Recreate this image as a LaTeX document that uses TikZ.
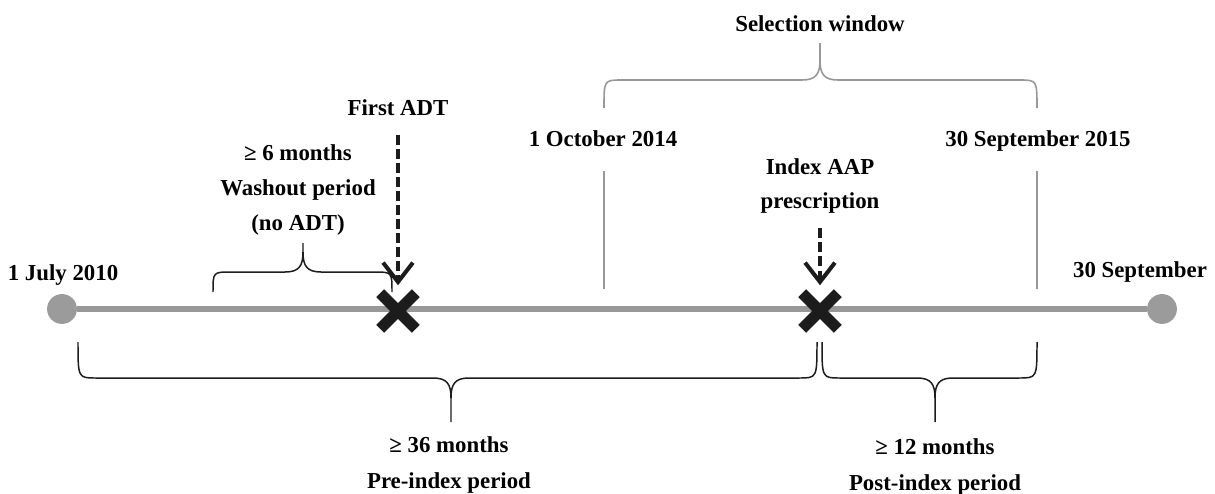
\documentclass[tikz,border=0pt]{standalone}
\usepackage{fontspec}
\setmainfont{Liberation Serif}
\usetikzlibrary{arrows.meta,shapes.misc}
\definecolor{LineGray}{RGB}{152,152,152}
\definecolor{DotGray}{RGB}{155,155,155}
\definecolor{MarkBlack}{RGB}{28,28,28}

% curly brace: [style] x-left, x-right, x-tip, y-ends, y-arms, y-tip
\newcommand{\tlbrace}[7][]{%
  \pgfmathsetmacro{\bs}{sign(#6-#5)}
  \draw[#1] (#2,#5) .. controls (#2,#6) .. ({#2+18},#6) -- ({#4-18},#6)
    .. controls ({#4-4},#6) and (#4,{#6+\bs*6}) .. (#4,{#6+\bs*20}) -- (#4,#7)
    (#4,#7) -- (#4,{#6+\bs*20})
    .. controls (#4,{#6+\bs*6}) and ({#4+4},#6) .. ({#4+18},#6)
    -- ({#3-18},#6) .. controls (#3,#6) .. (#3,#5);}

\begin{document}
\begin{tikzpicture}[x=0.02cm,y=-0.02cm]
  \tikzstyle{lbl}=[font=\fontsize{13}{20}\selectfont\bfseries, inner sep=0pt, align=center];
  \tikzstyle{dot}=[circle, fill=DotGray, minimum size=17pt, inner sep=0pt];
  \tikzstyle{xmark}=[cross out, draw=MarkBlack, line width=6.3pt, minimum size=14pt, inner sep=0pt];
  \tikzstyle{timeline}=[LineGray, line width=3pt];
  \tikzstyle{tick}=[LineGray, line width=0.9pt];
  \tikzset{dasharrow/.style={MarkBlack, line width=2.3pt, dash pattern=on 5.5pt off 2.5pt,
    -{Straight Barb[length=11pt,width=17pt,line width=2.3pt]}}}
  \tikzstyle{brace}=[MarkBlack, line width=0.85pt];
  \tikzstyle{graybrace}=[LineGray, line width=0.9pt];

  \useasboundingbox (0,0) rectangle (1215,494);

  % timeline
  \node[dot] (start) at (62,309) {};
  \node[dot] (end) at (1162,309) {};
  \draw[timeline] (start) -- (end);
  \node[xmark] (adt) at (398,311) {};
  \node[xmark] (index) at (820,311) {};

  % window limits
  \coordinate (oct-top) at (604,171);
  \coordinate (oct-bot) at (604,289);
  \coordinate (sep-top) at (1037,171);
  \coordinate (sep-bot) at (1037,289);
  \draw[tick] (oct-top) -- (oct-bot);
  \draw[tick] (sep-top) -- (sep-bot);

  % labels
  \node[lbl, anchor=base] (july) at (63,280) {1 July 2010};
  \node[lbl, anchor=base] (sept) at (1140,277) {30 September};
  \node[lbl, anchor=base] (fadt) at (398,115) {First ADT};
  \node[lbl, anchor=base] (oct) at (603,146) {1 October 2014};
  \node[lbl, anchor=base] (sep15) at (1038,146) {30 September 2015};
  \node[lbl, anchor=base] (sel) at (820,31) {Selection window};
  \node[lbl] (aap) at (820,186) {Index AAP\\[-1pt]prescription};
  \node[lbl] (wash) at (298,190) {≥ 6 months\\Washout period\\(no ADT)};
  \node[lbl] (pre) at (449,465) {≥ 36 months\\Pre-index period};
  \node[lbl] (post) at (935,467) {≥ 12 months\\Post-index period};

  % events
  \draw[dasharrow, shorten <=11pt, shorten >=4.5pt] (fadt) -- (adt);
  \draw[dasharrow, shorten <=8.5pt, shorten >=4.5pt] (aap) -- (index);

  % periods
  \tlbrace[brace]{213}{392}{303}{292}{272}{243}
  \tlbrace[graybrace]{604}{1037}{820}{108}{80}{43}
  \tlbrace[brace]{78}{817}{451}{342}{378}{422}
  \tlbrace[brace]{822}{1037}{935}{342}{378}{422}
\end{tikzpicture}
\end{document}
